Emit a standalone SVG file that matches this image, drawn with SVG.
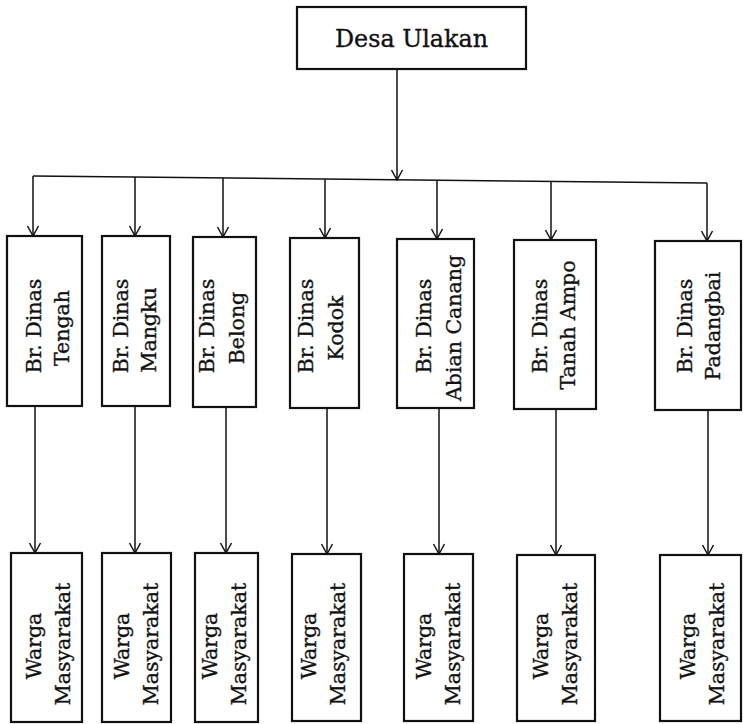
<svg xmlns="http://www.w3.org/2000/svg" width="743" height="724" viewBox="0 0 743 724">
  <style>
    .box { fill: #ffffff; stroke: #111111; stroke-width: 2.2; }
    .lbl { font-family: "DejaVu Serif", "Liberation Serif", serif; font-size: 20.5px; fill: #111111; stroke: #111111; stroke-width: 0.35; text-anchor: middle; }
    .title { font-family: "DejaVu Serif", "Liberation Serif", serif; font-size: 24px; fill: #111111; stroke: #111111; stroke-width: 0.35; text-anchor: middle; }
    .conn { fill: none; stroke: #111111; stroke-width: 1.5; }
  </style>
  <defs>
    <marker id="arr" markerUnits="userSpaceOnUse" markerWidth="16" markerHeight="16" viewBox="-12 -8 16 16" refX="0" refY="0" orient="auto">
      <path d="M-10,-5.5 L0,0 L-10,5.5" fill="none" stroke="#111111" stroke-width="1.5"/>
    </marker>
  </defs>

  <rect width="743" height="724" fill="#ffffff"/>

  <!-- connectors -->
  <g id="connectors" class="conn">
    <line x1="397" y1="69" x2="397" y2="180" marker-end="url(#arr)"/>
    <line x1="33" y1="176" x2="707" y2="183"/>
    <!-- branches down to the banjar boxes -->
    <line x1="33" y1="176" x2="33" y2="236" marker-end="url(#arr)"/>
    <line x1="135" y1="177" x2="135" y2="236" marker-end="url(#arr)"/>
    <line x1="223" y1="178" x2="223" y2="237" marker-end="url(#arr)"/>
    <line x1="325" y1="179" x2="325" y2="238" marker-end="url(#arr)"/>
    <line x1="437" y1="180" x2="437" y2="239" marker-end="url(#arr)"/>
    <line x1="551" y1="181" x2="551" y2="240" marker-end="url(#arr)"/>
    <line x1="707" y1="183" x2="707" y2="241" marker-end="url(#arr)"/>
    <!-- banjar to residents -->
    <line x1="35" y1="406" x2="35" y2="553" marker-end="url(#arr)"/>
    <line x1="135" y1="406" x2="135" y2="553" marker-end="url(#arr)"/>
    <line x1="226" y1="407" x2="226" y2="553" marker-end="url(#arr)"/>
    <line x1="327" y1="408" x2="327" y2="554" marker-end="url(#arr)"/>
    <line x1="439" y1="408" x2="439" y2="554" marker-end="url(#arr)"/>
    <line x1="556" y1="409" x2="556" y2="555" marker-end="url(#arr)"/>
    <line x1="708" y1="410" x2="708" y2="555" marker-end="url(#arr)"/>
  </g>

  <!-- village -->
  <g id="desa-ulakan">
    <rect class="box" x="297" y="7" width="229" height="62"/>
    <text class="title" x="411.5" y="47" textLength="153" lengthAdjust="spacingAndGlyphs">Desa Ulakan</text>
  </g>

  <!-- banjar dinas -->
  <g id="br-tengah">
    <rect class="box" x="7" y="236" width="75" height="170"/>
    <text class="lbl" transform="translate(41,326) rotate(-90)">Br. Dinas</text>
    <text class="lbl" transform="translate(69,328) rotate(-90)">Tengah</text>
  </g>
  <g id="br-mangku">
    <rect class="box" x="102" y="236" width="68" height="170"/>
    <text class="lbl" transform="translate(128,326) rotate(-90)">Br. Dinas</text>
    <text class="lbl" transform="translate(156,330) rotate(-90)">Mangku</text>
  </g>
  <g id="br-belong">
    <rect class="box" x="193" y="237" width="63" height="170"/>
    <text class="lbl" transform="translate(214,326) rotate(-90)">Br. Dinas</text>
    <text class="lbl" transform="translate(244,328) rotate(-90)">Belong</text>
  </g>
  <g id="br-kodok">
    <rect class="box" x="290" y="238" width="69" height="170"/>
    <text class="lbl" transform="translate(313,326) rotate(-90)">Br. Dinas</text>
    <text class="lbl" transform="translate(343,328) rotate(-90)">Kodok</text>
  </g>
  <g id="br-abian-canang">
    <rect class="box" x="397" y="239" width="77" height="169"/>
    <text class="lbl" transform="translate(431,326) rotate(-90)">Br. Dinas</text>
    <text class="lbl" transform="translate(461,328) rotate(-90)">Abian Canang</text>
  </g>
  <g id="br-tanah-ampo">
    <rect class="box" x="514" y="240" width="82" height="169"/>
    <text class="lbl" transform="translate(547,326) rotate(-90)">Br. Dinas</text>
    <text class="lbl" transform="translate(575,325) rotate(-90)">Tanah Ampo</text>
  </g>
  <g id="br-padangbai">
    <rect class="box" x="655" y="241" width="86" height="169"/>
    <text class="lbl" transform="translate(692,326) rotate(-90)">Br. Dinas</text>
    <text class="lbl" transform="translate(720,326) rotate(-90)">Padangbai</text>
  </g>

  <!-- residents -->
  <g id="warga-1">
    <rect class="box" x="11" y="553" width="71" height="169"/>
    <text class="lbl" transform="translate(41,646) rotate(-90)">Warga</text>
    <text class="lbl" transform="translate(70,644) rotate(-90)">Masyarakat</text>
  </g>
  <g id="warga-2">
    <rect class="box" x="102" y="553" width="69" height="169"/>
    <text class="lbl" transform="translate(129,646) rotate(-90)">Warga</text>
    <text class="lbl" transform="translate(158,644) rotate(-90)">Masyarakat</text>
  </g>
  <g id="warga-3">
    <rect class="box" x="195" y="553" width="63" height="169"/>
    <text class="lbl" transform="translate(217,646) rotate(-90)">Warga</text>
    <text class="lbl" transform="translate(246,644) rotate(-90)">Masyarakat</text>
  </g>
  <g id="warga-4">
    <rect class="box" x="292" y="554" width="69" height="167"/>
    <text class="lbl" transform="translate(316,646) rotate(-90)">Warga</text>
    <text class="lbl" transform="translate(345,644) rotate(-90)">Masyarakat</text>
  </g>
  <g id="warga-5">
    <rect class="box" x="404" y="554" width="69" height="167"/>
    <text class="lbl" transform="translate(431,646) rotate(-90)">Warga</text>
    <text class="lbl" transform="translate(460,644) rotate(-90)">Masyarakat</text>
  </g>
  <g id="warga-6">
    <rect class="box" x="517" y="555" width="78" height="166"/>
    <text class="lbl" transform="translate(548,646) rotate(-90)">Warga</text>
    <text class="lbl" transform="translate(577,644) rotate(-90)">Masyarakat</text>
  </g>
  <g id="warga-7">
    <rect class="box" x="660" y="555" width="81" height="166"/>
    <text class="lbl" transform="translate(695,646) rotate(-90)">Warga</text>
    <text class="lbl" transform="translate(724,644) rotate(-90)">Masyarakat</text>
  </g>
</svg>
